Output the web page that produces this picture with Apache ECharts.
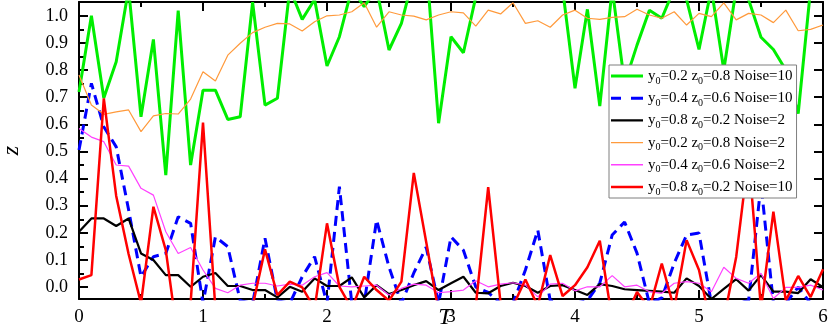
<!DOCTYPE html>
<html>
<head>
<meta charset="utf-8">
<script src="https://cdn.jsdelivr.net/npm/echarts@6/dist/echarts.min.js"></script>
<style>html,body{margin:0;padding:0;background:#fff;}#c{width:830px;height:334px;}</style>
</head>
<body>
<div id="c"></div>
<script>
// time axis (T)
var T = [0.0,0.1,0.2,0.3,0.4,0.5,0.6,0.7,0.8,0.9,1.0,1.1,1.2,1.3,1.4,1.5,1.6,1.7,1.8,1.9,
         2.0,2.1,2.2,2.3,2.4,2.5,2.6,2.7,2.8,2.9,3.0,3.1,3.2,3.3,3.4,3.5,3.6,3.7,3.8,3.9,
         4.0,4.1,4.2,4.3,4.4,4.5,4.6,4.7,4.8,4.9,5.0,5.1,5.2,5.3,5.4,5.5,5.6,5.7,5.8,5.9,6.0];

var seriesNames = [
  'y0=0.2 z0=0.8 Noise=10',
  'y0=0.4 z0=0.6 Noise=10',
  'y0=0.8 z0=0.2 Noise=2',
  'y0=0.2 z0=0.8 Noise=2',
  'y0=0.4 z0=0.6 Noise=2',
  'y0=0.8 z0=0.2 Noise=10'
];

var green = [0.719,1.000,0.697,0.831,1.1,0.628,0.913,0.413,1.019,0.450,
             0.726,0.726,0.618,0.628,1.05,0.671,0.696,1.1,0.987,1.06,
             0.815,0.923,1.1,1.034,1.1,0.874,0.972,1.15,1.2,0.604,
             0.923,0.864,1.07,1.15,1.2,1.15,1.2,1.15,1.2,1.1,
             0.733,1.024,0.667,1.1,0.75,0.892,1.021,0.991,1.1,1.06,
             0.876,1.1,0.8,1.1,1.06,0.921,0.876,0.80,0.640,1.1,1.1];

var blue = [0.505,0.751,0.591,0.517,0.285,0.038,0.112,0.124,0.259,0.235,
            -0.06,0.185,0.149,-0.05,-0.06,0.180,-0.05,-0.06,0.038,0.112,
            -0.06,0.370,-0.06,-0.06,0.247,0.074,-0.06,0.052,0.147,-0.06,
            0.185,0.136,0.0,-0.02,-0.06,-0.06,0.063,0.210,-0.05,-0.06,
            -0.06,-0.05,0.015,0.192,0.240,0.125,-0.06,-0.04,0.088,0.192,
            0.199,-0.06,-0.06,-0.06,-0.05,0.38,-0.06,-0.06,0.0,-0.06,-0.06];

var black = [0.204,0.253,0.253,0.225,0.253,0.124,0.100,0.044,0.044,0.001,
             0.038,0.052,0.004,0.004,-0.011,-0.011,-0.038,0.001,-0.017,0.032,
             0.004,0.004,0.036,-0.038,0.007,-0.026,-0.011,0.007,0.022,-0.011,
             0.014,0.038,-0.021,-0.023,0.004,0.016,0.004,-0.021,0.004,0.007,
             -0.011,-0.029,0.011,0.004,-0.008,-0.011,-0.014,-0.017,-0.021,0.032,
             0.004,-0.044,-0.007,0.029,-0.013,0.044,-0.017,-0.017,-0.022,0.029,0.0];

var orange = [0.782,0.671,0.637,0.646,0.653,0.573,0.631,0.640,0.638,0.693,
              0.794,0.760,0.855,0.899,0.938,0.958,0.972,0.970,0.944,0.978,
              1.000,1.003,1.015,1.048,0.958,1.015,1.003,0.999,0.985,1.003,
              1.015,1.011,0.962,1.021,1.007,1.048,0.972,0.982,0.958,1.003,
              1.021,0.991,0.987,0.994,0.997,1.024,1.003,0.991,1.015,0.966,
              1.009,0.997,1.048,0.985,1.009,1.003,0.975,1.021,0.945,0.950,0.966];

var magenta = [0.585,0.553,0.536,0.450,0.446,0.364,0.339,0.204,0.124,0.146,
               0.063,-0.005,-0.021,0.007,0.014,0.014,0.004,0.011,0.007,0.038,
               0.053,0.004,0.001,0.004,0.007,-0.029,-0.005,0.011,0.007,-0.021,
               -0.017,-0.011,0.023,0.001,0.011,0.016,0.007,-0.036,0.011,0.014,
               -0.014,0.001,0.001,0.042,0.001,0.007,-0.017,-0.023,0.014,0.020,
               0.014,-0.017,0.073,0.032,0.014,0.051,-0.042,-0.001,-0.001,0.007,-0.011];

var red = [0.028,0.044,0.696,0.336,0.122,-0.06,0.296,0.136,-0.2,-0.06,
           0.606,-0.08,-0.2,-0.2,-0.07,0.139,-0.03,0.020,-0.001,-0.08,
           0.235,0.001,-0.08,0.038,-0.011,-0.05,0.020,0.421,0.166,-0.09,
           -0.2,-0.2,-0.07,0.368,-0.06,-0.07,0.028,-0.07,0.118,-0.033,
           0.007,0.073,0.171,-0.12,-0.12,-0.018,-0.08,0.087,-0.08,0.173,
           0.063,-0.15,-0.12,0.111,0.487,-0.08,0.278,-0.05,0.041,-0.037,0.066];

var xTicks = [0,1,2,3,4,5,6];
var yTickLabels = [0.0,0.1,0.2,0.3,0.4,0.5,0.6,0.7,0.8,0.9,1.0];
var yMinorTicks = [0.05,0.15,0.25,0.35,0.45,0.55,0.65,0.75,0.85,0.95];

function pairs(vals){ return vals.map(function(v,i){ return [T[i], v]; }); }

var FONT = '"Liberation Serif","Times New Roman",serif';
var Y_MIN = -0.044, Y_MAX = 1.051;

// legend icons: a short band in a 32x14 box (tiny corner marks fix the box)
var BOX = 'M0,0h0.01v0.01h-0.01Z M31.99,13.99h0.01v0.01h-0.01Z ';
function bandIcon(th){ var t = 7 - th/2, b = 7 + th/2;
  return 'path://' + BOX + 'M0,' + t + 'H32V' + b + 'H0Z'; }
function dashIcon(th){ var t = 7 - th/2, b = 7 + th/2;
  return 'path://' + BOX + 'M0,' + t + 'H10V' + b + 'H0Z M20,' + t + 'H32V' + b + 'H20Z'; }
var legendIcons = [bandIcon(3), dashIcon(3), bandIcon(2.4), bandIcon(1.4), bandIcon(1.4), bandIcon(2.6)];

var chart = echarts.init(document.getElementById('c'), null, {renderer:'canvas'});

function xAx(pos, showLabel){
  return {
    type:'value', position:pos, min:0, max:6, interval:1,
    axisLine:{show:true, onZero:false, lineStyle:{color:'#000', width:2}},
    axisTick:{show:true, inside:true, length:9, lineStyle:{color:'#000', width:2}},
    minorTick:{show:true, splitNumber:2, length:5, lineStyle:{color:'#000', width:2}},
    splitLine:{show:false}, minorSplitLine:{show:false},
    axisLabel:{show:showLabel, margin:9, fontSize:19, color:'#000', fontFamily:FONT},
    name: showLabel ? 'T' : '', nameLocation:'middle', nameGap:7, nameMoveOverlap:false,
    nameTextStyle:{fontSize:24, fontStyle:'italic', color:'#000', fontFamily:FONT, padding:[0,12,0,0]}
  };
}

var option = {
  backgroundColor:'#fff',
  animation:false,
  grid:{left:79, right:7, top:2, bottom:35, containLabel:false, outerBoundsMode:'none'},
  xAxis:[ xAx('bottom', true), xAx('top', false) ],
  yAxis:[
    {
      type:'value', position:'left', min:Y_MIN, max:Y_MAX,
      axisLine:{show:true, onZero:false, lineStyle:{color:'#000', width:2}},
      axisTick:{show:true, inside:true, length:9, customValues:yTickLabels, lineStyle:{color:'#000', width:2}},
      axisLabel:{show:true, customValues:yTickLabels, margin:11, fontSize:18, color:'#000', fontFamily:FONT,
        formatter:function(v){ return v.toFixed(1); }},
      splitLine:{show:false},
      name:'z', nameLocation:'middle', nameGap:55, nameRotate:90, nameMoveOverlap:false,
      nameTextStyle:{fontSize:24, fontStyle:'italic', color:'#000', fontFamily:FONT}
    },
    {
      type:'value', position:'left', min:Y_MIN, max:Y_MAX,
      axisLine:{show:false},
      axisTick:{show:true, inside:true, length:5, customValues:yMinorTicks, lineStyle:{color:'#000', width:2}},
      axisLabel:{show:false}, splitLine:{show:false}
    },
    {
      type:'value', position:'right', min:Y_MIN, max:Y_MAX,
      axisLine:{show:true, onZero:false, lineStyle:{color:'#000', width:2}},
      axisTick:{show:true, inside:true, length:9, customValues:yTickLabels, lineStyle:{color:'#000', width:2}},
      axisLabel:{show:false}, splitLine:{show:false}
    }
  ],
  legend:{
    show:true, orient:'vertical', left:609, top:65,
    backgroundColor:'#fff', borderColor:'#7f7f7f', borderWidth:1,
    padding:[1,4,1,2], itemGap:2.2, itemWidth:32, itemHeight:14,
    data:seriesNames.map(function(n,i){ return {name:n, icon:legendIcons[i]}; }),
    formatter:function(n){ return n.replace(/([yz])0=/g, '$1{sub|0}='); },
    textStyle:{fontSize:15, color:'#000', fontFamily:FONT, lineHeight:20,
      rich:{ sub:{fontSize:10, fontFamily:FONT, color:'#000', verticalAlign:'bottom', lineHeight:14} } }
  },
  series:[
    {name:seriesNames[0], type:'line', data:pairs(green), symbol:'none', clip:true,
     lineStyle:{color:'#00EE00', width:3}, itemStyle:{color:'#00EE00'}},
    {name:seriesNames[1], type:'line', data:pairs(blue), symbol:'none', clip:true,
     lineStyle:{color:'#0000FF', width:3, type:[10,6]}, itemStyle:{color:'#0000FF'}},
    {name:seriesNames[2], type:'line', data:pairs(black), symbol:'none', clip:true,
     lineStyle:{color:'#000000', width:2.2}, itemStyle:{color:'#000000'}},
    {name:seriesNames[3], type:'line', data:pairs(orange), symbol:'none', clip:true,
     lineStyle:{color:'#FF9A3C', width:1.2}, itemStyle:{color:'#FF9A3C'}},
    {name:seriesNames[4], type:'line', data:pairs(magenta), symbol:'none', clip:true,
     lineStyle:{color:'#FF40FF', width:1.2}, itemStyle:{color:'#FF40FF'}},
    {name:seriesNames[5], type:'line', data:pairs(red), symbol:'none', clip:true,
     lineStyle:{color:'#FF0000', width:2.5}, itemStyle:{color:'#FF0000'}}
  ]
};
chart.setOption(option);
</script>
</body>
</html>
